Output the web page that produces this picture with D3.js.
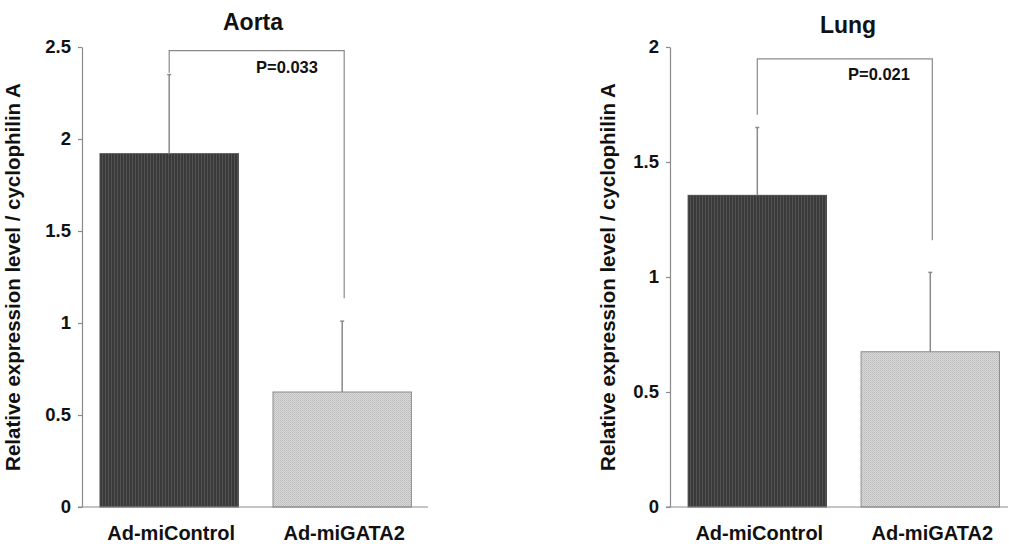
<!DOCTYPE html>
<html>
<head>
<meta charset="utf-8">
<script src="https://cdn.jsdelivr.net/npm/d3@7"></script>
<style>
  body { margin: 0; background: #fff; }
  text { font-family: "Liberation Sans", Arial, sans-serif; font-weight: bold; fill: #111; }
</style>
</head>
<body>
<div id="chart"></div>
<script>
// groups on the x axis
var groups = ["Ad-miControl", "Ad-miGATA2"];

// Aorta panel
var aortaMean = [1.92, 0.625];
var aortaSD = [0.43, 0.385];
var aortaTicks = [0, 0.5, 1, 1.5, 2, 2.5];
var aortaP = "P=0.033";
var aortaBracket = [2.36, 2.48, 1.135];   // left leg end, top, right leg end

// Lung panel
var lungMean = [1.355, 0.675];
var lungSD = [0.295, 0.345];
var lungTicks = [0, 0.5, 1, 1.5, 2];
var lungP = "P=0.021";
var lungBracket = [1.705, 1.948, 1.16];

var yLabel = "Relative expression level / cyclophilin A";

var W = 1009, H = 544;

var svg = d3.select("#chart").append("svg")
    .attr("width", W)
    .attr("height", H);

// bar fills
var defs = svg.append("defs");
var dark = defs.append("pattern")
    .attr("id", "darkFill")
    .attr("patternUnits", "userSpaceOnUse")
    .attr("width", 3).attr("height", 4);
dark.append("rect").attr("width", 3).attr("height", 4).attr("fill", "#3a3a3a");
dark.append("rect").attr("width", 1).attr("height", 4).attr("fill", "#525252");

var light = defs.append("pattern")
    .attr("id", "lightFill")
    .attr("patternUnits", "userSpaceOnUse")
    .attr("width", 2).attr("height", 2);
light.append("rect").attr("width", 2).attr("height", 2).attr("fill", "#d8d8d8");
light.append("rect").attr("width", 1).attr("height", 1).attr("fill", "#bdbdbd");
light.append("rect").attr("x", 1).attr("y", 1).attr("width", 1).attr("height", 1).attr("fill", "#c6c6c6");

var fills = ["url(#darkFill)", "url(#lightFill)"];
var strokes = ["#4a4a4a", "#8c8c8c"];

var panels = [
  { title: "Aorta", titleX: 253, titleY: 30, mean: aortaMean, sd: aortaSD, ticks: aortaTicks,
    max: 2.5, p: aortaP, pX: 287, pY: 73, bracket: aortaBracket,
    x0: 82, x1: 428, outer: 0.1, align: 0.52, labelX: 20 },
  { title: "Lung", titleX: 848, titleY: 33, mean: lungMean, sd: lungSD, ticks: lungTicks,
    max: 2, p: lungP, pX: 879, pY: 80, bracket: lungBracket,
    x0: 670, x1: 1008, outer: 0.077, align: 0.68, labelX: 615 }
];

var plotTop = 47, plotBottom = 507;
var lineColor = "#8a8a8a";

panels.forEach(function(pn) {
  var g = svg.append("g");

  var x = d3.scaleBand()
      .domain(groups)
      .range([pn.x0, pn.x1])
      .paddingInner(0.2)
      .paddingOuter(pn.outer)
      .align(pn.align);

  var y = d3.scaleLinear()
      .domain([0, pn.max])
      .range([plotBottom, plotTop]);

  // bars
  g.selectAll(".bar")
      .data(groups)
      .enter().append("rect")
      .attr("x", function(d) { return x(d); })
      .attr("y", function(d, i) { return y(pn.mean[i]); })
      .attr("width", x.bandwidth())
      .attr("height", function(d, i) { return y(0) - y(pn.mean[i]); })
      .attr("fill", function(d, i) { return fills[i]; })
      .attr("stroke", function(d, i) { return strokes[i]; })
      .attr("stroke-width", 1);

  // error bars (upper only)
  var eb = g.selectAll(".err")
      .data(groups)
      .enter().append("g");
  eb.append("line")
      .attr("x1", function(d) { return x(d) + x.bandwidth() / 2; })
      .attr("x2", function(d) { return x(d) + x.bandwidth() / 2; })
      .attr("y1", function(d, i) { return y(pn.mean[i]); })
      .attr("y2", function(d, i) { return y(pn.mean[i] + pn.sd[i]); })
      .attr("stroke", lineColor).attr("stroke-width", 1.5);
  eb.append("line")
      .attr("x1", function(d) { return x(d) + x.bandwidth() / 2 - 2; })
      .attr("x2", function(d) { return x(d) + x.bandwidth() / 2 + 2; })
      .attr("y1", function(d, i) { return y(pn.mean[i] + pn.sd[i]); })
      .attr("y2", function(d, i) { return y(pn.mean[i] + pn.sd[i]); })
      .attr("stroke", lineColor).attr("stroke-width", 1.5);

  // significance bracket
  var bx1 = x(groups[0]) + x.bandwidth() / 2,
      bx2 = x(groups[1]) + x.bandwidth() / 2 + 2;
  g.append("path")
      .attr("d", "M" + bx1 + "," + y(pn.bracket[0]) +
                 "V" + y(pn.bracket[1]) +
                 "H" + bx2 +
                 "V" + y(pn.bracket[2]))
      .attr("fill", "none")
      .attr("stroke", lineColor)
      .attr("stroke-width", 1.2);

  g.append("text")
      .attr("x", pn.pX).attr("y", pn.pY)
      .attr("text-anchor", "middle")
      .style("font-size", "16.5px")
      .text(pn.p);

  // y axis
  var yAxis = d3.axisLeft(y)
      .tickValues(pn.ticks)
      .tickFormat(function(d) { return d; })
      .tickSize(4)
      .tickSizeOuter(0)
      .tickPadding(7);
  var ya = g.append("g")
      .attr("transform", "translate(" + pn.x0 + ",0)")
      .call(yAxis);
  ya.select(".domain").attr("stroke", lineColor).attr("stroke-width", 1.2);
  ya.selectAll(".tick line").attr("stroke", lineColor).attr("stroke-width", 1.2);
  ya.selectAll(".tick text")
      .style("font-size", "18.5px")
      .style("font-family", "'Liberation Sans', Arial, sans-serif")
      .style("font-weight", "bold")
      .attr("fill", "#111");

  // x baseline
  g.append("line")
      .attr("x1", pn.x0 - 4).attr("x2", pn.x1)
      .attr("y1", y(0)).attr("y2", y(0))
      .attr("stroke", lineColor).attr("stroke-width", 1.2);

  // x labels
  g.selectAll(".xl")
      .data(groups)
      .enter().append("text")
      .attr("x", function(d) { return x(d) + x.bandwidth() / 2 + 2; })
      .attr("y", 540)
      .attr("text-anchor", "middle")
      .style("font-size", "20px")
      .text(function(d) { return d; });

  // title
  g.append("text")
      .attr("x", pn.titleX).attr("y", pn.titleY)
      .attr("text-anchor", "middle")
      .style("font-size", "23px")
      .text(pn.title);

  // y label
  g.append("text")
      .attr("transform", "translate(" + pn.labelX + "," + 277 + ") rotate(-90)")
      .attr("text-anchor", "middle")
      .style("font-size", "20.5px")
      .text(yLabel);
});
</script>
</body>
</html>
